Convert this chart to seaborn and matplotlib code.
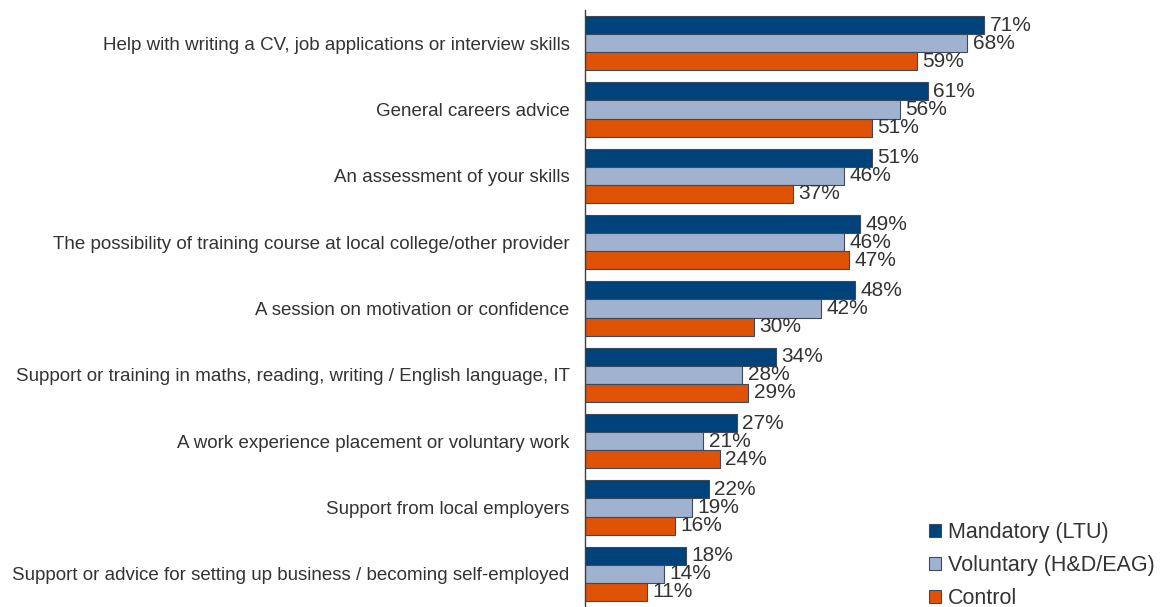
import matplotlib
matplotlib.use("Agg")
import matplotlib.pyplot as plt
import seaborn as sns
import pandas as pd
from matplotlib.patches import Patch

categories = [
    "Help with writing a CV, job applications or interview skills",
    "General careers advice",
    "An assessment of your skills",
    "The possibility of training course at local college/other provider",
    "A session on motivation or confidence",
    "Support or training in maths, reading, writing / English language, IT",
    "A work experience placement or voluntary work",
    "Support from local employers",
    "Support or advice for setting up business / becoming self-employed",
]
series = ["Mandatory (LTU)", "Voluntary (H&D/EAG)", "Control"]
mandatory = [71, 61, 51, 49, 48, 34, 27, 22, 18]
voluntary = [68, 56, 46, 46, 42, 28, 21, 19, 14]
control = [59, 51, 37, 47, 30, 29, 24, 16, 11]

colors = ["#00427A", "#A1B2D1", "#E05206"]
edge = "#3C4A5C"

rows = []
for name, vals in zip(series, [mandatory, voluntary, control]):
    for cat, v in zip(categories, vals):
        rows.append({"category": cat, "series": name, "value": v})
df = pd.DataFrame(rows)

sns.set_theme(style="white")
plt.rcParams["font.family"] = ["Liberation Sans", "DejaVu Sans"]

fig = plt.figure(figsize=(11.61, 6.07), dpi=100)
ax = fig.add_axes([585 / 1161, 0.0, 1 - 585 / 1161, 1 - 10 / 607])

sns.barplot(data=df, y="category", x="value", hue="series", orient="h",
            palette=colors, order=categories, hue_order=series,
            width=0.82, edgecolor=edge, linewidth=0.8, saturation=1,
            legend=False, ax=ax, errorbar=None)

for cont in ax.containers:
    ax.bar_label(cont, labels=[f"{int(round(b.get_width()))}%" for b in cont],
                 padding=4, fontsize=15, color="#333333")

ax.set_xlim(0, (1161 - 585) / 5.62)
ax.set_ylim(8.5, -0.5)
ax.set_xlabel("")
ax.set_ylabel("")
ax.set_xticks([])
ax.tick_params(axis="y", length=0, pad=11, labelsize=13.5, labelcolor="#333333")
for s in ["top", "right", "bottom"]:
    ax.spines[s].set_visible(False)
ax.spines["left"].set_color("#404040")
ax.spines["left"].set_linewidth(1.0)

handles = [Patch(facecolor=c, edgecolor=edge, linewidth=0.8) for c in colors]
leg = ax.legend(handles, series, loc="lower right", bbox_to_anchor=(1.022, -0.036),
                frameon=False, fontsize=15.5, handlelength=0.55, handleheight=0.55,
                handletextpad=0.3, labelspacing=0.55, labelcolor="#333333")

fig.savefig("out.png", dpi=100)
